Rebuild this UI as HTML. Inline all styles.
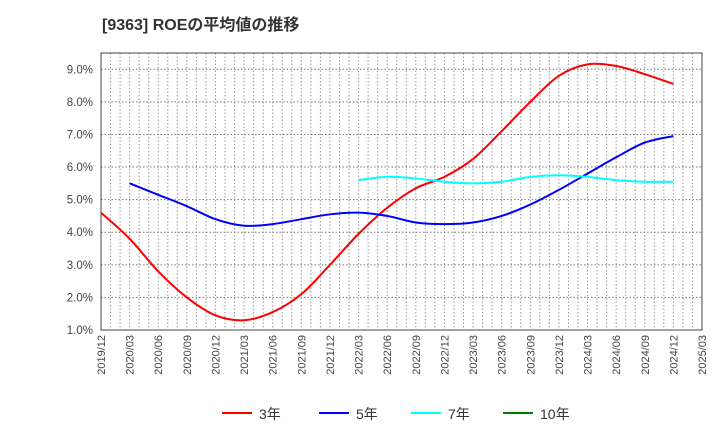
<!DOCTYPE html>
<html><head><meta charset="utf-8"><style>
body{margin:0;background:#fff;font-family:"Liberation Sans","Noto Sans CJK JP",sans-serif}
</style></head><body>
<svg id="c" width="720" height="440" xmlns="http://www.w3.org/2000/svg">
<text x="102" y="30" font-size="16" font-weight="bold" fill="#333">[9363]  ROEの平均値の推移</text>
<g id="grid"></g><g id="axes"></g><g id="series"></g><g id="legend"></g>
</svg>
<script>
const xLabels=["2019/12","2020/03","2020/06","2020/09","2020/12","2021/03","2021/06","2021/09","2021/12","2022/03","2022/06","2022/09","2022/12","2023/03","2023/06","2023/09","2023/12","2024/03","2024/06","2024/09","2024/12","2025/03"];
const yTicks=[1,2,3,4,5,6,7,8,9];
const roe3=[4.6,3.8,2.8,2.0,1.45,1.3,1.55,2.1,3.0,3.95,4.75,5.35,5.7,6.25,7.1,8.0,8.8,9.15,9.1,8.85,8.55];
const roe5=[null,5.5,5.15,4.8,4.4,4.2,4.25,4.4,4.55,4.6,4.5,4.3,4.25,4.3,4.5,4.85,5.3,5.8,6.3,6.75,6.95];
const roe7=[null,null,null,null,null,null,null,null,null,5.6,5.7,5.65,5.55,5.5,5.55,5.7,5.75,5.7,5.6,5.55,5.55];
const roe10=[];
const NS="http://www.w3.org/2000/svg";
const L=101,R=702,T=53,B=330;
const xs=i=>L+(R-L)*i/(xLabels.length-1);
const ys=v=>B-(v-1)*(B-T)/8.5;
function mk(tag,attrs,parent){const e=document.createElementNS(NS,tag);for(const k in attrs)e.setAttribute(k,attrs[k]);parent.appendChild(e);return e;}
const grid=document.getElementById('grid'),axes=document.getElementById('axes'),series=document.getElementById('series'),legend=document.getElementById('legend');
for(let m=1;m<63;m++){const x=L+(R-L)*m/63;
const g=mk('line',{x1:x,x2:x,y1:T,y2:B,stroke:'#999','stroke-dasharray':'1.5,2','stroke-width':1},grid);

}
yTicks.forEach(v=>{const y=ys(v);
const g=mk('line',{x1:L,x2:R,y1:y,y2:y,stroke:'#777','stroke-dasharray':'1.5,2','stroke-width':1},grid);


const t=mk('text',{x:L-8,y:y+4,'text-anchor':'end','font-size':11.5,fill:'#444'},axes);t.textContent=v.toFixed(1)+'%';

});
const fr=mk('rect',{x:L,y:T,width:R-L,height:B-T,fill:'none',stroke:'#444','stroke-width':1},axes);


xLabels.forEach((s,i)=>{const x=xs(i);const t=mk('text',{x:0,y:0,transform:`translate(${x+4},${B+5}) rotate(-90)`,'text-anchor':'end','font-size':11,fill:'#444'},axes);t.textContent=s;

});
function path(arr){const p=[];arr.forEach((v,i)=>{if(v!=null)p.push([xs(i),ys(v)]);});if(p.length<2)return '';
let d=`M${p[0][0]},${p[0][1]}`;for(let i=0;i<p.length-1;i++){const p0=p[i-1]||p[i],p1=p[i],p2=p[i+1],p3=p[i+2]||p2;
d+=` C${p1[0]+(p2[0]-p0[0])/6},${p1[1]+(p2[1]-p0[1])/6} ${p2[0]-(p3[0]-p1[0])/6},${p2[1]-(p3[1]-p1[1])/6} ${p2[0]},${p2[1]}`;}return d;}
const defs=[[roe3,'#ff0000','3年','line-3yr'],[roe5,'#0000ff','5年','line-5yr'],[roe7,'#00ffff','7年','line-7yr'],[roe10,'#008000','10年','line-10yr']];
defs.forEach(([a,c,n,nm],k)=>{const d=path(a);if(d){const e=mk('path',{d:d,fill:'none',stroke:c,'stroke-width':2},series);

}
const lx=[222,319,411,503][k];
const g=mk('g',{},legend);


mk('line',{x1:lx,x2:lx+30,y1:413,y2:413,stroke:c,'stroke-width':2},g);
const t=mk('text',{x:lx+37,y:419,'font-size':14,fill:'#333'},g);t.textContent=n;});
</script>
</body></html>
